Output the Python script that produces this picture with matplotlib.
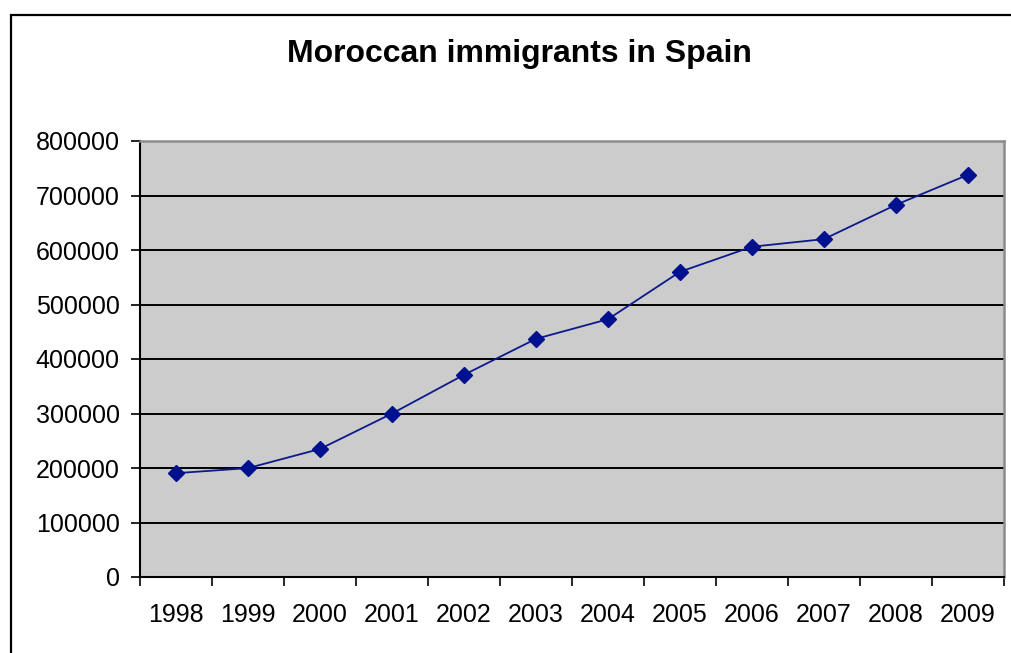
import matplotlib
matplotlib.use("Agg")
import matplotlib.pyplot as plt
from matplotlib.patches import Rectangle

years = ["1998", "1999", "2000", "2001", "2002", "2003",
         "2004", "2005", "2006", "2007", "2008", "2009"]
immigrants = [190497, 199782, 234937, 299905, 371000, 437000,
              473000, 560000, 606000, 620000, 683000, 738000]
y_ticks = [0, 100000, 200000, 300000, 400000, 500000, 600000, 700000, 800000]

plt.rcParams['font.family'] = ['Liberation Sans', 'DejaVu Sans']

fig = plt.figure(figsize=(10.11, 6.53), dpi=100)
fig.patch.set_facecolor('white')

# outer chart frame (runs off the right and bottom edge)
fig.patches.append(Rectangle((11 / 1011, -0.05), 1.1, 1 - 15 / 653 + 0.05,
                             transform=fig.transFigure, fill=False,
                             edgecolor='black', linewidth=1.6, zorder=0))

ax = fig.add_axes([140 / 1011, 1 - 577 / 653, 864 / 1011, 436 / 653])
ax.set_facecolor('#CCCCCC')

x = list(range(len(years)))
ax.plot(x, immigrants, color='#0A1A8C', linewidth=1.3, marker='D',
        markersize=8, markerfacecolor='#00118F', markeredgecolor='#00118F',
        zorder=3, clip_on=False)

ax.set_xlim(-0.5, len(years) - 0.5)
ax.set_ylim(0, 800000)

# y axis
ax.set_yticks(y_ticks)
ax.set_yticklabels([str(v) for v in y_ticks])
ax.tick_params(axis='y', direction='out', length=6.5, width=1.2,
               labelsize=18, pad=8, colors='black')

# x axis: ticks between categories, labels at centers
ax.set_xticks([i - 0.5 for i in range(len(years) + 1)])
ax.set_xticklabels([])
ax.set_xticks(x, minor=True)
ax.set_xticklabels(years, minor=True)
ax.tick_params(axis='x', which='major', direction='out', length=6.5, width=1.2)
ax.tick_params(axis='x', which='minor', length=0, labelsize=18, pad=19)

# gridlines
ax.grid(axis='y', color='black', linewidth=1.4, zorder=1)
ax.set_axisbelow(True)

for side in ['left', 'bottom']:
    ax.spines[side].set_color('black')
    ax.spines[side].set_linewidth(1.5)
for side in ['top', 'right']:
    ax.spines[side].set_color('#8C8C8C')
    ax.spines[side].set_linewidth(1.8)

fig.text(519 / 1011, 1 - 54 / 653, "Moroccan immigrants in Spain",
         ha='center', va='center', fontsize=23, fontweight='bold')

fig.savefig('out.png', dpi=100)
